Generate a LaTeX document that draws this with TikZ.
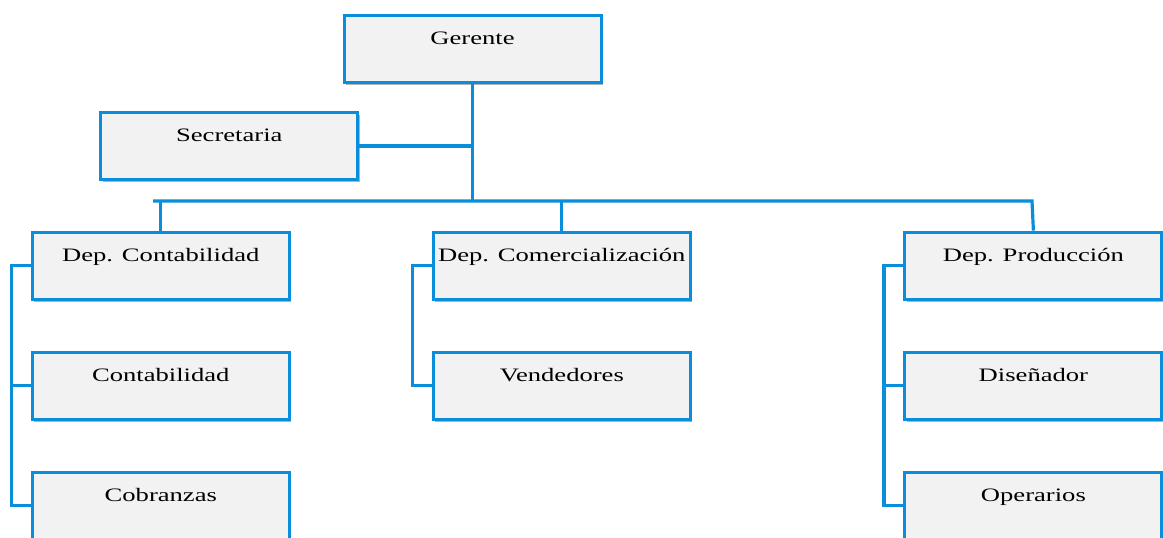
\documentclass[tikz,border=0pt]{standalone}
\usepackage{fontspec}
\setmainfont{Liberation Serif}[FakeStretch=1.40]
\usetikzlibrary{shadows}
\definecolor{orgblue}{HTML}{0A8EDC}
\definecolor{boxfill}{HTML}{F2F2F2}
\tikzset{
  unit/.style={draw=orgblue, line width=3pt, fill=boxfill,
    minimum width=257pt, inner xsep=0pt, inner ysep=0pt,
    text height=29.5pt, text depth=38pt,
    font=\fontsize{19}{22}\selectfont,
    drop shadow={shadow xshift=1.8pt, shadow yshift=-2.5pt, fill=black, opacity=0.3}},
  link/.style={draw=orgblue, line width=3.2pt}
}
\begin{document}
\begin{tikzpicture}[x=1pt, y=-1pt]
\useasboundingbox (0,0) rectangle (1163,538);
% boxes
\node[unit] (ger) at (472.5,49.2) {Gerente};
\node[unit] (sec) at (229.3,145.9) {Secretaria};
\node[unit] (dcon) at (160.8,265.8) {Dep. Contabilidad};
\node[unit] (con) at (160.8,385.8) {Contabilidad};
\node[unit] (cob) at (160.8,505.8) {Cobranzas};
\node[unit] (dcom) at (561.8,265.8) {Dep. Comercialización};
\node[unit] (ven) at (561.8,385.8) {Vendedores};
\node[unit] (dpro) at (1033.4,265.8) {Dep. Producción};
\node[unit] (dis) at (1033.4,385.8) {Diseñador};
\node[unit] (ope) at (1033.4,505.8) {Operarios};
% main bus
\coordinate (busL) at (153,201);
\coordinate (busR) at (1032,201);
\draw[link] (ger.south) -- (ger.south |- busL);
\draw[link] (sec.east) -- (sec.east -| ger.south);
\draw[link] (busL) -- (busR) -- (dpro.north);
\draw[link] (dcon.north |- busL) -- (dcon.north);
\draw[link] (dcom.north |- busL) -- (dcom.north);
% department rails
\draw[link] (dcon.west) -- ++(-19.5,0) |- (cob.west);
\draw[link] (con.west) -- ++(-19.5,0);
\draw[link] (dcom.west) -- ++(-19.5,0) |- (ven.west);
\draw[link] (dpro.west) -- ++(-19.5,0) |- (ope.west);
\draw[link] (dis.west) -- ++(-19.5,0);
\end{tikzpicture}
\end{document}
